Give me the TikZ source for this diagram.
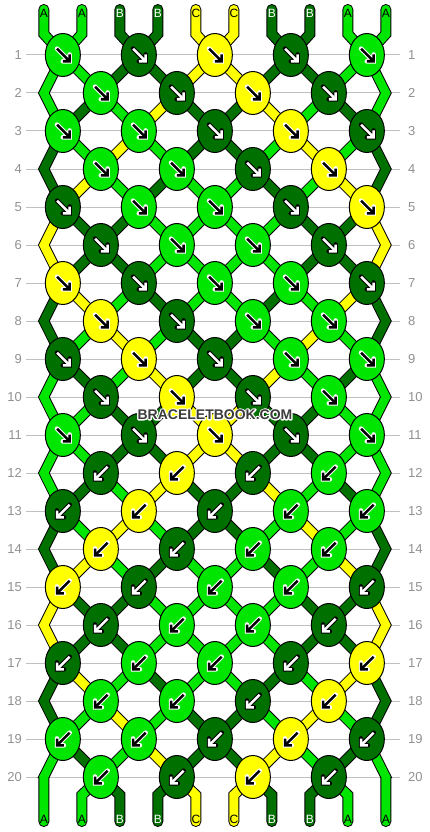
\documentclass[tikz,border=0pt]{standalone}
\usepackage{fontspec}
\setmainfont{Liberation Sans}
\usetikzlibrary{shapes.geometric}
\definecolor{lg}{RGB}{0,230,0}
\definecolor{dg}{RGB}{0,112,0}
\definecolor{yl}{RGB}{255,255,0}
\definecolor{gridgray}{RGB}{192,192,192}
\definecolor{labgray}{RGB}{145,145,145}
\definecolor{wmgray}{RGB}{60,60,60}
\colorlet{arr-lg}{black}\colorlet{halo-lg}{white}
\colorlet{arr-yl}{black}\colorlet{halo-yl}{white}
\colorlet{arr-dg}{white}\colorlet{halo-dg}{black}
\colorlet{txt-lg}{black}\colorlet{txt-yl}{black}\colorlet{txt-dg}{white}
\pgfdeclarelayer{gridlayer}
\pgfdeclarelayer{stringlayer}
\pgfsetlayers{gridlayer,stringlayer,main}
\tikzset{
  knot/.style={ellipse, draw=black, line width=1pt, minimum width=35pt, minimum height=43pt, inner sep=0pt, outer sep=0pt},
  gridline/.style={draw=gridgray, line width=1pt},
  rowlab/.style={text=labgray, font=\fontsize{13}{13}\selectfont, inner sep=0pt},
  taillab/.style={font=\fontsize{12}{12}\selectfont, inner sep=0pt},
  strline/.style={line width=#1, line cap=round, line join=miter},
  wmtext/.style={font=\fontsize{14}{14}\selectfont\bfseries, inner sep=0pt},
}
\def\hw{4.85pt}
\newcommand{\buildstring}[1]{%
  \pgfmathtruncatemacro{\uz}{mod(#1,2)==1 ? #1-1 : 20-#1}%
  \xdef\lns{(ts-#1) -- (tb-#1)}%
  \gdef\pls{}%
  \gdef\prevedge{0}%
  \foreach \rw in {1,...,20}{%
    \pgfmathtruncatemacro{\pa}{pm(\uz+\rw-1)}%
    \pgfmathtruncatemacro{\pb}{pm(\uz+\rw)}%
    \ifnum\pa=\pb
      \pgfmathtruncatemacro{\rp}{\rw-1}%
      \pgfmathtruncatemacro{\rn}{\rw+1}%
      \ifnum\pa=1 \def\kp{1}\else\def\kp{9}\fi
      \ifnum\rw<20
        \xdef\pls{\pls ([xshift=-\hw]k-\rp-\kp.center) -- ([xshift=-\hw]k-\rw-\pa) -- ([xshift=-\hw]k-\rn-\kp.center) -- ([xshift=\hw]k-\rn-\kp.center) -- ([xshift=\hw]k-\rw-\pa) -- ([xshift=\hw]k-\rp-\kp.center) -- cycle }%
      \else
        \xdef\pls{\pls ([xshift=-\hw]k-\rp-\kp.center) -- ([xshift=-\hw]k-\rw-\pa) -- ([xshift=\hw]k-\rw-\pa) -- ([xshift=\hw]k-\rp-\kp.center) -- cycle }%
        \xdef\lns{\lns (k-\rw-\pa) -- (be-#1)}%
      \fi
      \gdef\prevedge{1}%
    \else
      \ifnum\pa<\pb \let\pp\pa \else \let\pp\pb \fi
      \ifnum\prevedge=1
        \xdef\lns{\lns (k-\rw-\pp.center)}%
      \else
        \xdef\lns{\lns -- (k-\rw-\pp.center)}%
      \fi
      \gdef\prevedge{0}%
    \fi
  }%
  \ifnum\prevedge=0 \xdef\lns{\lns -- (bb-#1) -- (be-#1)}\fi
}
\begin{document}
\begin{tikzpicture}[x=1pt,y=-1pt,declare function={pm(\x)=min(mod(\x,20),19-mod(\x,20))+1;}]
\useasboundingbox (0,0) rectangle (430,832);
\begin{pgfonlayer}{gridlayer}
  \fill[white] (0,0) rectangle (430,832);
\end{pgfonlayer}
% row labels and grid lines
\foreach \rw in {1,...,20}{
  \pgfmathsetmacro{\y}{55+(\rw-1)*38}
  \node[rowlab, anchor=east] (ll-\rw) at (22,\y) {\rw};
  \node[rowlab, anchor=west] (rl-\rw) at (408,\y) {\rw};
  \coordinate (gl-\rw) at (26,\y);
  \coordinate (gr-\rw) at (400,\y);
  \begin{pgfonlayer}{gridlayer}
    \draw[gridline] (gl-\rw) -- (gr-\rw);
  \end{pgfonlayer}
}
% knots
\foreach \rw/\cols in {1/{lg,dg,yl,dg,lg},2/{lg,dg,yl,dg},3/{lg,lg,dg,yl,dg},4/{lg,lg,dg,yl},5/{dg,lg,lg,dg,yl},6/{dg,lg,lg,dg},7/{yl,dg,lg,lg,dg},8/{yl,dg,lg,lg},9/{dg,yl,dg,lg,lg},10/{dg,yl,dg,lg},11/{lg,dg,yl,dg,lg},12/{dg,yl,dg,lg},13/{dg,yl,dg,lg,lg},14/{yl,dg,lg,lg},15/{yl,dg,lg,lg,dg},16/{dg,lg,lg,dg},17/{dg,lg,lg,dg,yl},18/{lg,lg,dg,yl},19/{lg,lg,dg,yl,dg},20/{lg,dg,yl,dg}}{
  \pgfmathsetmacro{\y}{55+(\rw-1)*38}
  \pgfmathtruncatemacro{\dd}{\rw<12 ? 1 : -1}
  \pgfmathtruncatemacro{\odd}{mod(\rw,2)}
  \ifnum\odd=0
    \coordinate (k-\rw-1) at (43.85,\y);
    \coordinate (k-\rw-10) at (385.85,\y);
  \fi
  \foreach \kc [count=\kk] in \cols {
    \pgfmathtruncatemacro{\pp}{\odd==1 ? 2*\kk-1 : 2*\kk}
    \node[knot, fill=\kc] (k-\rw-\pp) at ({43.85+(\pp-0.5)*38},\y) {};
    \begin{scope}[shift={(k-\rw-\pp.center)}]
      \draw[draw=halo-\kc, line width=4.6pt, line join=miter, line cap=round]
        ({-6.3*\dd+0.5},-6.3) -- ({6.3*\dd+0.5},6.3)
        ({0.5-0.5*\dd},6.3) -- ({6.3*\dd+0.5},6.3) -- ({6.3*\dd+0.5},-0.5);
      \draw[draw=arr-\kc, line width=2.6pt, line join=miter]
        ({-6.3*\dd+0.5},-6.3) -- ({6.3*\dd+0.5},6.3)
        ({0.5-0.5*\dd},6.3) -- ({6.3*\dd+0.5},6.3) -- ({6.3*\dd+0.5},-0.5);
    \end{scope}
  }
}
% tails and their letters
\foreach \s/\kc/\lab in {1/lg/A,2/lg/A,3/dg/B,4/dg/B,5/yl/C,6/yl/C,7/dg/B,8/dg/B,9/lg/A,10/lg/A}{
  \pgfmathsetmacro{\xs}{43.85+(\s-1)*38}
  \coordinate (ts-\s) at (\xs,9.5);
  \coordinate (tb-\s) at (\xs,34);
  \coordinate (bb-\s) at (\xs,795);
  \coordinate (be-\s) at (\xs,821.5);
  \node[taillab, text=txt-\kc] (tl-\s) at (\xs,13) {\lab};
  \node[taillab, text=txt-\kc] (bl-\s) at (\xs,819.5) {\lab};
}
% strings
\begin{pgfonlayer}{stringlayer}
  \foreach \s in {1,...,10}{
    \buildstring{\s}
    \draw[black, strline=11pt] \lns;
    \filldraw[black, line width=2pt, line join=miter] \pls;
  }
  \foreach \s/\kc in {1/lg,2/lg,3/dg,4/dg,5/yl,6/yl,7/dg,8/dg,9/lg,10/lg}{
    \buildstring{\s}
    \draw[\kc, strline=9pt] \lns;
    \fill[\kc] \pls;
  }
\end{pgfonlayer}
% watermark: white outline (stroked text) under the dark text
\node[wmtext, text=white] (wm-halo) at (215,414.5) {\special{pdf:literal direct 1 Tr 2.6 w 1 1 1 RG 1 j}BRACELETBOOK.COM\special{pdf:literal direct 0 Tr}};
\node[wmtext, text=wmgray] (wm) at (215,414.5) {BRACELETBOOK.COM};
\end{tikzpicture}
\end{document}
